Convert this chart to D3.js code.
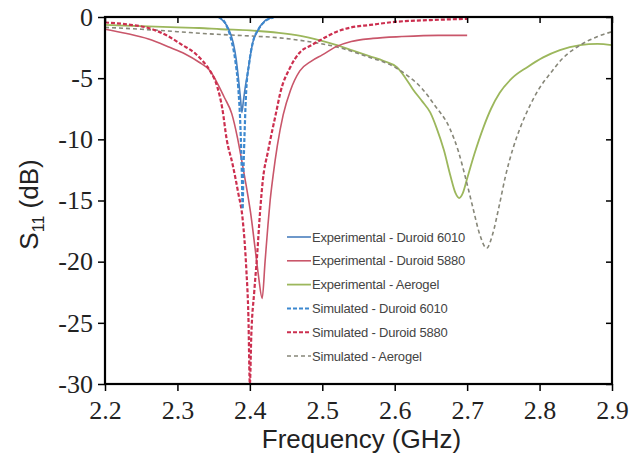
<!DOCTYPE html>
<html>
<head>
<meta charset="utf-8">
<script src="https://cdn.jsdelivr.net/npm/d3@7"></script>
<style>
  body { margin: 0; background: #fff; }
  svg { display: block; }
</style>
</head>
<body>
<svg id="chart" width="629" height="463"></svg>
<script>
// S11 curves, [frequency GHz, dB]
const expDuroid6010 = [[2.35,0.4],[2.356,0],[2.362,-0.25],[2.370,-0.9],[2.377,-2.1],[2.381,-3.4],[2.384,-4.9],[2.387,-6.6],[2.389,-7.8],[2.391,-6.9],[2.394,-5.6],[2.397,-4.6],[2.400,-3.4],[2.404,-2.1],[2.411,-1.1],[2.421,-0.3],[2.432,0],[2.44,0.3]]
const expDuroid5880 = [[2.20,-1.0],[2.23,-1.35],[2.26,-1.8],[2.29,-2.5],[2.31,-3.0],[2.33,-3.7],[2.345,-4.4],[2.355,-5.4],[2.365,-6.6],[2.375,-7.9],[2.383,-9.9],[2.389,-11.8],[2.395,-13.8],[2.401,-16],[2.407,-18.8],[2.412,-21.2],[2.417,-23],[2.421,-20],[2.425,-17],[2.428,-15],[2.432,-13],[2.438,-10.5],[2.446,-8],[2.456,-6],[2.469,-4.4],[2.485,-3.6],[2.50,-3.1],[2.52,-2.4],[2.54,-2.0],[2.57,-1.75],[2.61,-1.6],[2.66,-1.5],[2.70,-1.5]]
const expAerogel = [[2.20,-0.65],[2.25,-0.75],[2.30,-0.85],[2.33,-0.9],[2.36,-1.0],[2.40,-1.1],[2.44,-1.3],[2.47,-1.55],[2.49,-1.8],[2.52,-2.3],[2.54,-2.7],[2.565,-3.2],[2.585,-3.6],[2.603,-4.1],[2.615,-5.0],[2.625,-5.9],[2.638,-6.9],[2.649,-7.8],[2.658,-9.1],[2.668,-10.9],[2.677,-13],[2.684,-14.4],[2.689,-14.8],[2.694,-14.4],[2.700,-13.2],[2.710,-11.2],[2.722,-9.1],[2.733,-7.5],[2.745,-6.2],[2.762,-5.0],[2.783,-4.1],[2.805,-3.3],[2.828,-2.7],[2.856,-2.3],[2.88,-2.2],[2.90,-2.3]]
const simDuroid6010 = [[2.35,0.3],[2.358,0],[2.366,-0.5],[2.374,-1.8],[2.380,-3.6],[2.384,-5.8],[2.387,-9],[2.389,-13],[2.390,-15.7],[2.391,-13],[2.393,-9],[2.395,-6],[2.399,-3.8],[2.404,-2.1],[2.412,-1],[2.422,-0.3],[2.433,0],[2.44,0.3]]
const simDuroid5880 = [[2.20,-0.45],[2.23,-0.6],[2.26,-0.9],[2.285,-1.5],[2.307,-2.3],[2.325,-3.0],[2.335,-3.6],[2.345,-4.4],[2.355,-5.7],[2.362,-7.5],[2.368,-10],[2.376,-12],[2.384,-14.4],[2.390,-16.5],[2.395,-20.5],[2.398,-24.5],[2.400,-30],[2.402,-26],[2.406,-22.5],[2.410,-19.5],[2.414,-16],[2.418,-13.3],[2.425,-11],[2.437,-7.6],[2.442,-6.2],[2.455,-4.2],[2.469,-2.9],[2.485,-2.3],[2.497,-1.9],[2.52,-1.2],[2.54,-0.85],[2.566,-0.65],[2.60,-0.4],[2.65,-0.25],[2.70,-0.15]]
const simAerogel = [[2.20,-0.85],[2.25,-1.0],[2.30,-1.2],[2.35,-1.4],[2.40,-1.55],[2.44,-1.7],[2.48,-2.0],[2.52,-2.45],[2.56,-3.2],[2.60,-4.1],[2.62,-4.9],[2.637,-5.8],[2.655,-7.2],[2.676,-9.1],[2.688,-11],[2.698,-13.2],[2.708,-15.6],[2.717,-17.7],[2.727,-18.9],[2.735,-17.8],[2.744,-15.5],[2.753,-13],[2.763,-10.8],[2.773,-9.1],[2.787,-7.2],[2.80,-5.8],[2.815,-4.6],[2.83,-3.5],[2.856,-2.3],[2.878,-1.65],[2.90,-1.2]]

const xTicks = [2.2, 2.3, 2.4, 2.5, 2.6, 2.7, 2.8, 2.9]
const yTicks = [0, -5, -10, -15, -20, -25, -30]

const seriesNames = ['Experimental - Duroid 6010', 'Experimental - Duroid 5880', 'Experimental - Aerogel',
  'Simulated - Duroid 6010', 'Simulated - Duroid 5880', 'Simulated - Aerogel']
const seriesData = [expDuroid6010, expDuroid5880, expAerogel, simDuroid6010, simDuroid5880, simAerogel]
// look of each series (colour, width, dash)
const seriesStyle = [
  { color: '#4a7fbd', width: 1.6, dash: null },
  { color: '#c9566a', width: 1.6, dash: null },
  { color: '#9cb75c', width: 1.8, dash: null },
  { color: '#3c88cf', width: 2.2, dash: '4,2' },
  { color: '#cc2f4f', width: 2.2, dash: '4,2' },
  { color: '#878779', width: 1.6, dash: '4,3' }
]

const margin = { left: 105, top: 17, right: 17, bottom: 79 }
const svg = d3.select('#chart')
const W = +svg.attr('width') - margin.left - margin.right
const H = +svg.attr('height') - margin.top - margin.bottom

const x = d3.scaleLinear().domain([2.2, 2.9]).range([0, W])
const y = d3.scaleLinear().domain([-30, 0]).range([H, 0])

const g = svg.append('g').attr('transform', 'translate(' + margin.left + ',' + margin.top + ')')

g.append('defs').append('clipPath').attr('id', 'plotClip')
  .append('rect').attr('width', W).attr('height', H)

// curves
const line = d3.line()
  .x(d => x(d[0]))
  .y(d => y(d[1]))
  .curve(d3.curveMonotoneX)

const curveG = g.append('g').attr('clip-path', 'url(#plotClip)')
// draw order: aerogel first, duroid lines on top
const order = [2, 5, 1, 4, 0, 3]
order.forEach(i => {
  curveG.append('path')
    .datum(seriesData[i])
    .attr('fill', 'none')
    .attr('stroke', seriesStyle[i].color)
    .attr('stroke-width', seriesStyle[i].width)
    .attr('stroke-dasharray', seriesStyle[i].dash)
    .attr('d', line)
})

// axes
const tickFont = '"Liberation Serif", "Times New Roman", serif'
const xAxis = g.append('g')
  .attr('transform', 'translate(0,' + H + ')')
  .call(d3.axisBottom(x).tickValues(xTicks).tickSize(7).tickPadding(10).tickFormat(d3.format('.1f')))
const yAxis = g.append('g')
  .call(d3.axisLeft(y).tickValues(yTicks).tickSize(7).tickPadding(5).tickFormat(d => d))
// mirrored inward ticks
g.append('g').call(d3.axisTop(x).tickValues(xTicks).tickSize(-6).tickFormat(''))
g.append('g').attr('transform', 'translate(' + W + ',0)')
  .call(d3.axisRight(y).tickValues(yTicks).tickSize(-6).tickFormat(''))

g.selectAll('.domain').remove()
g.selectAll('.tick line').attr('stroke', '#000').attr('stroke-width', 1.5)
xAxis.selectAll('text')
  .style('font-family', tickFont).style('font-size', '26px').attr('fill', '#222')
yAxis.selectAll('text')
  .style('font-family', tickFont).style('font-size', '26px').attr('fill', '#222')

// frame
g.append('rect')
  .attr('width', W).attr('height', H)
  .attr('fill', 'none').attr('stroke', '#000').attr('stroke-width', 2.2)

// axis titles
const sansFont = 'Arial, "Liberation Sans", sans-serif'
svg.append('text')
  .attr('x', margin.left + W / 2 + 3)
  .attr('y', 448)
  .attr('text-anchor', 'middle')
  .attr('font-family', sansFont).attr('font-size', 26).attr('fill', '#222')
  .text('Frequency (GHz)')

const yt = svg.append('text')
  .attr('transform', 'translate(38,' + (margin.top + H / 2 + 4) + ') rotate(-90)')
  .attr('text-anchor', 'middle')
  .attr('font-family', sansFont).attr('font-size', 26).attr('fill', '#222')
yt.append('tspan').text('S')
yt.append('tspan').attr('font-size', 16).attr('dy', 6).text('11')
yt.append('tspan').attr('dy', -6).text(' (dB)')

// legend
const legend = g.append('g').attr('transform', 'translate(182,220)')
seriesNames.forEach((name, i) => {
  const row = legend.append('g').attr('transform', 'translate(0,' + (i * 23.8) + ')')
  row.append('line')
    .attr('x1', 0).attr('x2', 24)
    .attr('stroke', seriesStyle[i].color)
    .attr('stroke-width', Math.min(seriesStyle[i].width, 2))
    .attr('stroke-dasharray', seriesStyle[i].dash)
  row.append('text')
    .attr('x', 25).attr('dy', '0.35em')
    .attr('font-family', sansFont).attr('font-size', 13).attr('fill', '#444')
    .attr('letter-spacing', -0.2)
    .text(name)
})
</script>
</body>
</html>
